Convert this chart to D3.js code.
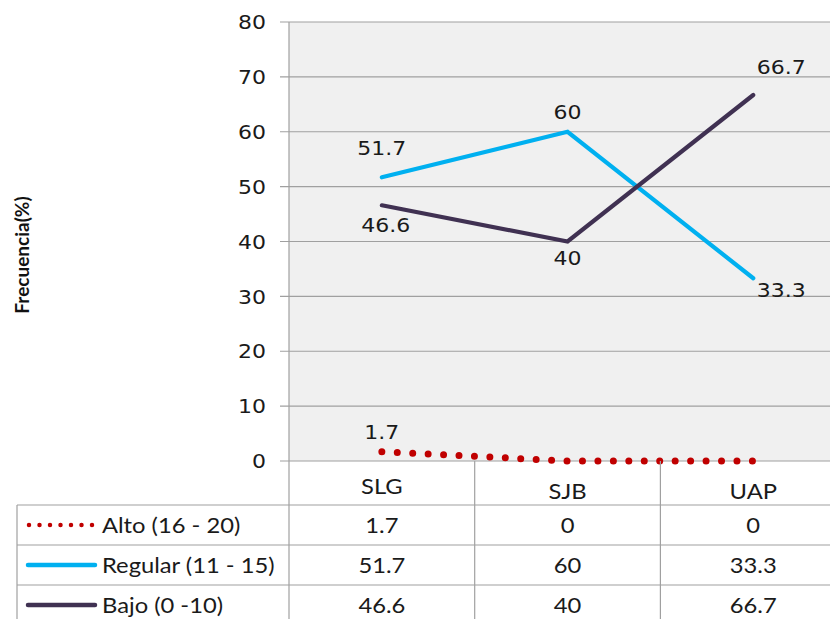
<!DOCTYPE html>
<html><head><meta charset="utf-8">
<script src="https://cdn.jsdelivr.net/npm/d3@7"></script>
<style>body{margin:0;background:#fff}svg{display:block}</style>
</head><body>
<svg id="c" width="830" height="619"></svg>
<script>
const categories = ["SLG", "SJB", "UAP"];
const seriesNames = ["Alto (16 - 20)", "Regular (11 - 15)", "Bajo (0 -10)"];
const alto = [1.7, 0, 0];
const regular = [51.7, 60, 33.3];
const bajo = [46.6, 40, 66.7];
const yTicks = [0, 10, 20, 30, 40, 50, 60, 70, 80];
const yTitle = "Frecuencia(%)";

const series = [
  {name: seriesNames[0], values: alto, color: "#c00000", dotted: true},
  {name: seriesNames[1], values: regular, color: "#00b0f0"},
  {name: seriesNames[2], values: bajo, color: "#403152"}
];

const svg = d3.select("#c");
const W = 830, H = 619;
const L = 289, T = 22, B = 461;
const x = d3.scaleBand().domain(categories).range([L, L + 3 * 185.7]);
const y = d3.scaleLinear().domain([0, 80]).range([B, T]);
const cx = c => x(c) + x.bandwidth() / 2;
const numFont = "'DejaVu Sans', Verdana, sans-serif";
const tFont = "Lato, 'Open Sans', sans-serif";
const grid = "#a0a0a0";
const SX = 1.1;

function txt(px, py, s, opts) {
  const t = svg.append("text")
    .attr("transform", `translate(${px},${py}) scale(${opts.sx || 1},1)`)
    .attr("dy", "0.36em").attr("text-anchor", opts.anchor || "middle")
    .attr("font-family", opts.font).attr("font-size", opts.size)
    .attr("fill", opts.fill || "#1a1a1a").text(s);
  if (opts.weight) t.attr("font-weight", opts.weight);
  return t;
}

svg.append("rect").attr("x", L).attr("y", T).attr("width", W - L).attr("height", B - T).attr("fill", "#f0f0f0");

yTicks.forEach(t => {
  svg.append("line").attr("x1", L - 9).attr("x2", W).attr("y1", y(t)).attr("y2", y(t))
    .attr("stroke", grid).attr("stroke-width", 1.2);
  txt(266, y(t), t, {font: numFont, size: 20, sx: SX, anchor: "end"});
});
svg.append("line").attr("x1", L).attr("x2", L).attr("y1", T).attr("y2", H).attr("stroke", grid).attr("stroke-width", 1.2);

svg.append("text").attr("transform", "translate(29,255) rotate(-90)")
  .attr("text-anchor", "middle").attr("font-family", tFont).attr("font-weight", "bold")
  .attr("font-size", 19).attr("fill", "#111").text(yTitle);

const line = d3.line().x((d, i) => cx(categories[i])).y(d => y(d));
series.forEach(s => {
  const p = svg.append("path").datum(s.values).attr("d", line).attr("fill", "none")
    .attr("stroke", s.color);
  if (s.dotted) p.attr("stroke-width", 7).attr("stroke-linecap", "round").attr("stroke-dasharray", "0 15.45");
  else p.attr("stroke-width", 4.2).attr("stroke-linejoin", "miter").attr("stroke-linecap", "round");
});

const labelOffsets = {
  0: [[0, -20], null, null],
  1: [[0, -30], [0, -20], [28, 12]],
  2: [[4, 20], [0, 16], [28, -28]]
};
series.forEach((s, si) => {
  s.values.forEach((v, i) => {
    const off = labelOffsets[si][i];
    if (!off) return;
    txt(cx(categories[i]) + off[0], y(v) + off[1], v, {font: numFont, size: 20, sx: SX});
  });
});

const rowTop = [505, 545, 585];
const rowH = 40;
rowTop.forEach(r => {
  svg.append("line").attr("x1", 17).attr("x2", W).attr("y1", r).attr("y2", r).attr("stroke", grid).attr("stroke-width", 1.2);
});
svg.append("line").attr("x1", 17).attr("x2", 17).attr("y1", 505).attr("y2", H).attr("stroke", grid).attr("stroke-width", 1.2);
categories.forEach((c, i) => {
  if (i > 0) svg.append("line").attr("x1", x(c)).attr("x2", x(c)).attr("y1", B).attr("y2", H).attr("stroke", grid).attr("stroke-width", 1.2);
  txt(cx(c), i === 0 ? 486 : 491, c, {font: tFont, size: 22, sx: 1.08});
});
series.forEach((s, si) => {
  const yc = rowTop[si] + rowH / 2;
  const lg = svg.append("line").attr("x1", 28).attr("x2", 95).attr("y1", yc).attr("y2", yc).attr("stroke", s.color);
  if (s.dotted) lg.attr("stroke-width", 4.5).attr("stroke-linecap", "round").attr("stroke-dasharray", "0 10.5").attr("x1", 29).attr("x2", 93);
  else lg.attr("stroke-width", 4.5).attr("stroke-linecap", "round");
  txt(102, yc, s.name, {font: tFont, size: 22, sx: 1.08, anchor: "start"});
  s.values.forEach((v, i) => {
    txt(cx(categories[i]), yc, v, {font: tFont, size: 22, sx: 1.08});
  });
});
</script>
</body></html>
